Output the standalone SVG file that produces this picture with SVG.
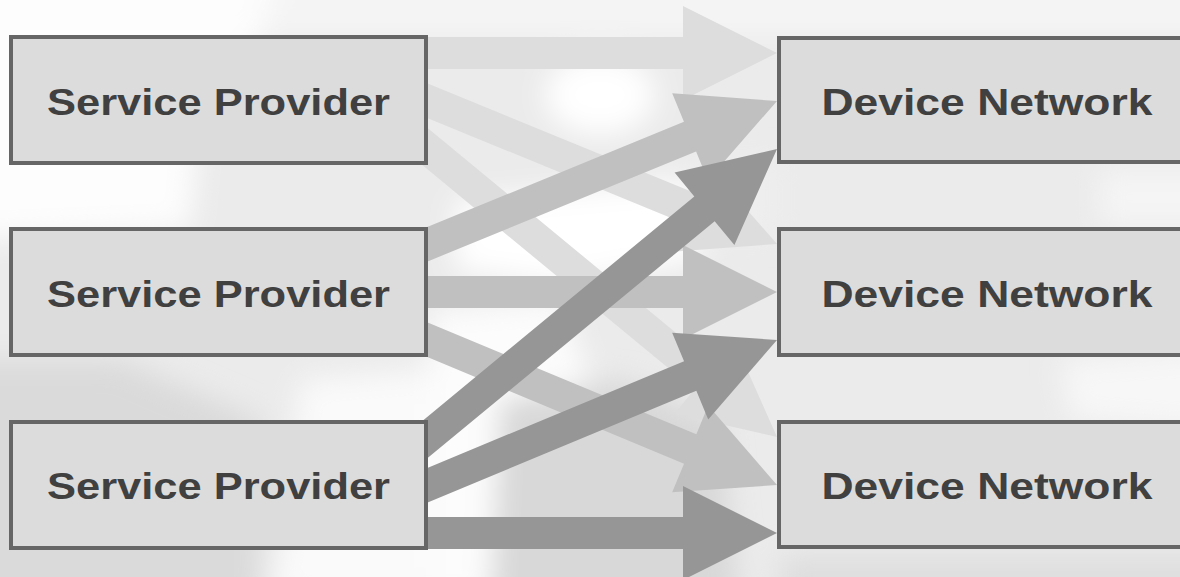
<svg xmlns="http://www.w3.org/2000/svg" width="1180" height="577" viewBox="0 0 1180 577">
  <defs>
    <filter id="soft" filterUnits="userSpaceOnUse" x="-60" y="-60" width="1300" height="700">
      <feGaussianBlur stdDeviation="14"/>
    </filter>
    <style>
      .box { fill: #dcdcdc; stroke: #666666; stroke-width: 4; }
      .label { font-family: "Liberation Sans", Arial, sans-serif; font-weight: bold; font-size: 37px; fill: #404040; text-anchor: middle; }
      .light { fill: #dddddd; }
      .mid { fill: #c0c0c0; }
      .dark { fill: #969696; }
    </style>
  </defs>

  <!-- washed-out photographic backdrop -->
  <g id="background">
    <rect x="0" y="0" width="1180" height="577" fill="#ebebeb"/>
    <g filter="url(#soft)">
      <rect x="-40" y="-40" width="1260" height="80" fill="#f4f4f4"/>
      <path d="M-40,-40 L280,-40 L260,40 L200,120 L190,230 L-40,240 Z" fill="#fdfdfd"/>
      <ellipse cx="600" cy="95" rx="55" ry="40" fill="#ffffff"/>
      <path d="M455,200 L690,180 L700,260 L560,285 L455,270 Z" fill="#ffffff"/>
      <path d="M430,310 L560,300 L590,380 L520,420 L490,600 L430,600 Z" fill="#fcfcfc"/>
      <path d="M300,380 L430,370 L430,600 L270,600 L290,500 Z" fill="#fafafa"/>
      <path d="M-40,360 L120,360 L260,420 L260,620 L-40,620 Z" fill="#dadada"/>
      <path d="M500,400 L620,380 L720,420 L740,620 L490,620 Z" fill="#d8d8d8"/>
      <path d="M1060,360 L1220,350 L1220,430 L1070,420 Z" fill="#f7f7f7"/>
      <path d="M1100,170 L1220,170 L1220,225 L1100,225 Z" fill="#f5f5f5"/>
      <path d="M780,555 L1220,555 L1220,620 L780,620 Z" fill="#dedede"/>
      <path d="M700,160 L780,160 L780,235 L700,235 Z" fill="#eeeeee"/>
    </g>
  </g>

  <!-- connectors: block arrows, light from the top provider, mid from the middle one, dark from the bottom one -->
  <g id="connectors">
    <polygon class="light" points="410,37 683,37 683,6 777,53 683,100 683,69 410,69"/>
    <polygon class="light" points="403.42,108.23 683.95,223.17 672.20,251.85 777,244 707.84,164.87 696.09,193.55 415.56,78.61"/>
    <polygon class="light" points="402.39,148.61 694.32,389.51 674.59,413.42 777,437 734.41,340.92 714.68,364.83 422.75,123.93"/>

    <polygon class="mid" points="415.56,266.39 696.09,151.45 707.84,180.13 777,101 672.20,93.15 683.95,121.83 403.42,236.77"/>
    <polygon class="mid" points="410,276 683,276 683,245 777,292 683,339 683,308 410,308"/>
    <polygon class="mid" points="403.39,347.11 684.05,463.71 672.16,492.33 777,485 708.22,405.53 696.33,434.15 415.67,317.55"/>

    <polygon class="dark" points="422.75,462.07 714.68,221.17 734.41,245.08 777,149 674.59,172.58 694.32,196.49 402.39,437.39"/>
    <polygon class="dark" points="415.67,507.45 696.33,390.85 708.22,419.47 777,340 672.16,332.67 684.05,361.29 403.39,477.89"/>
    <polygon class="dark" points="410,517 683,517 683,486 777,533 683,580 683,549 410,549"/>
  </g>

  <!-- service providers -->
  <g id="provider-1">
    <rect class="box" x="11" y="37" width="415" height="126"/>
    <text class="label" x="218.5" y="115" textLength="343" lengthAdjust="spacingAndGlyphs">Service Provider</text>
  </g>
  <g id="provider-2">
    <rect class="box" x="11" y="229" width="415" height="126"/>
    <text class="label" x="218.5" y="306.5" textLength="343" lengthAdjust="spacingAndGlyphs">Service Provider</text>
  </g>
  <g id="provider-3">
    <rect class="box" x="11" y="422" width="415" height="126"/>
    <text class="label" x="218.5" y="498.5" textLength="343" lengthAdjust="spacingAndGlyphs">Service Provider</text>
  </g>

  <!-- device networks (run past the right edge) -->
  <g id="network-1">
    <rect class="box" x="779" y="38" width="415" height="124"/>
    <text class="label" x="987" y="115" textLength="331" lengthAdjust="spacingAndGlyphs">Device Network</text>
  </g>
  <g id="network-2">
    <rect class="box" x="779" y="229" width="415" height="126"/>
    <text class="label" x="987" y="306.5" textLength="331" lengthAdjust="spacingAndGlyphs">Device Network</text>
  </g>
  <g id="network-3">
    <rect class="box" x="779" y="422" width="415" height="125"/>
    <text class="label" x="987" y="498.5" textLength="331" lengthAdjust="spacingAndGlyphs">Device Network</text>
  </g>
</svg>
